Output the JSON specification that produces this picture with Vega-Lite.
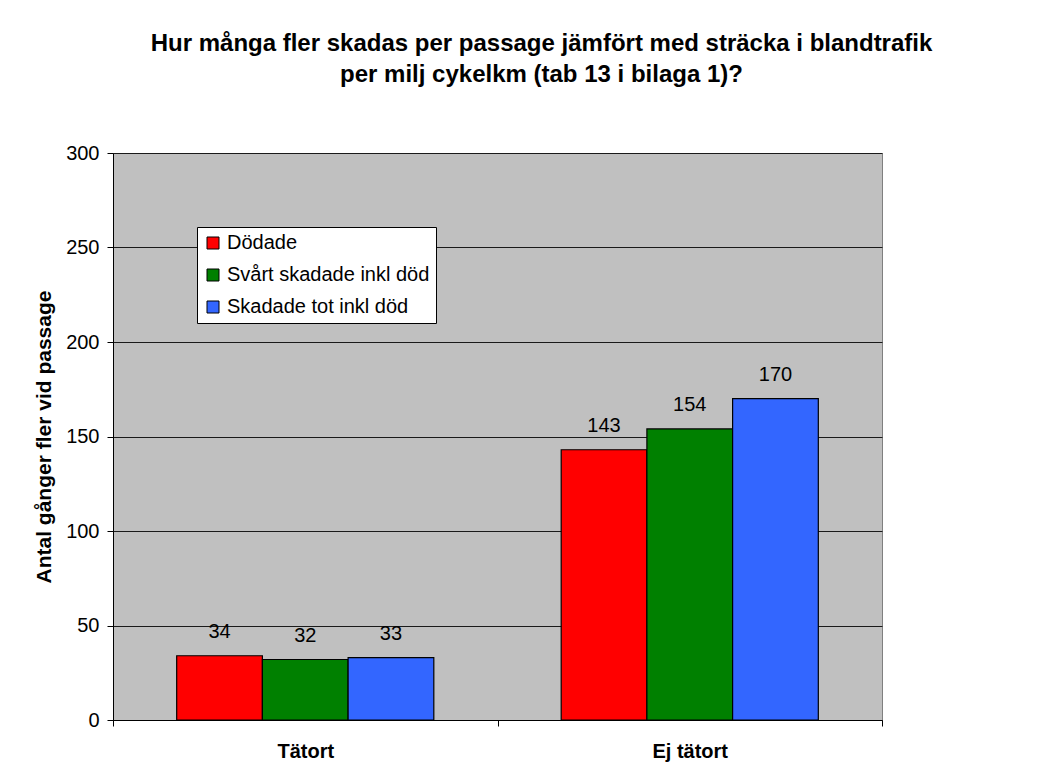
{
  "$schema": "https://vega.github.io/schema/vega-lite/v6.json",
  "autosize": "none",
  "width": 769,
  "height": 567,
  "padding": {"left": 113, "top": 153, "right": 155, "bottom": 58},
  "background": "white",
  "title": {
    "text": ["Hur många fler skadas per passage jämfört med sträcka i blandtrafik", "per milj cykelkm (tab 13 i bilaga 1)?"],
    "font": "Liberation Sans",
    "fontSize": 24,
    "fontWeight": "bold",
    "color": "black",
    "anchor": "middle",
    "frame": "group",
    "lineHeight": 31,
    "dx": 44,
    "offset": 56
  },
  "config": {
    "font": "Liberation Sans",
    "view": {"fill": "#C0C0C0", "stroke": "#808080", "strokeWidth": 1}
  },
  "data": {
    "values": [
      {"cat": "Tätort", "series": "Dödade", "value": 34},
      {"cat": "Tätort", "series": "Svårt skadade inkl död", "value": 32},
      {"cat": "Tätort", "series": "Skadade tot inkl död", "value": 33},
      {"cat": "Ej tätort", "series": "Dödade", "value": 143},
      {"cat": "Ej tätort", "series": "Svårt skadade inkl död", "value": 154},
      {"cat": "Ej tätort", "series": "Skadade tot inkl död", "value": 170}
    ]
  },
  "encoding": {
    "x": {
      "field": "cat",
      "type": "nominal",
      "sort": ["Tätort", "Ej tätort"],
      "scale": {"paddingInner": 0, "paddingOuter": 0},
      "axis": {
        "title": null,
        "labelAngle": 0,
        "labelFont": "Liberation Sans",
        "labelFontSize": 20,
        "labelFontWeight": "bold",
        "labelColor": "black",
        "labelPadding": 15,
        "tickBand": "extent",
        "tickColor": "black",
        "tickSize": 6,
        "domainColor": "black",
        "grid": false
      }
    },
    "xOffset": {
      "field": "series",
      "type": "nominal",
      "sort": ["Dödade", "Svårt skadade inkl död", "Skadade tot inkl död"],
      "scale": {"paddingOuter": 0.743, "paddingInner": 0}
    },
    "y": {
      "field": "value",
      "type": "quantitative",
      "scale": {"domain": [0, 300], "nice": false},
      "axis": {
        "title": "Antal gånger fler vid passage",
        "titleFont": "Liberation Sans",
        "titleFontSize": 21,
        "titleFontWeight": "bold",
        "titleColor": "black",
        "titlePadding": 11,
        "values": [0, 50, 100, 150, 200, 250, 300],
        "labelFont": "Liberation Sans",
        "labelFontSize": 20,
        "labelColor": "black",
        "labelPadding": 8,
        "tickColor": "black",
        "tickSize": 6,
        "domainColor": "black",
        "grid": true,
        "gridColor": "#1a1a1a",
        "gridWidth": 1,
        "gridOpacity": 1
      }
    }
  },
  "layer": [
    {
      "mark": {"type": "bar", "stroke": "black", "strokeWidth": 1.2},
      "encoding": {
        "color": {
          "field": "series",
          "type": "nominal",
          "sort": ["Dödade", "Svårt skadade inkl död", "Skadade tot inkl död"],
          "scale": {
            "domain": ["Dödade", "Svårt skadade inkl död", "Skadade tot inkl död"],
            "range": ["#FF0000", "#008000", "#3366FF"]
          },
          "legend": {
            "title": null,
            "orient": "none",
            "legendX": 84,
            "legendY": 74,
            "fillColor": "white",
            "strokeColor": "black",
            "padding": 6,
            "symbolType": "square",
            "symbolSize": 144,
            "symbolStrokeColor": "black",
            "symbolStrokeWidth": 1,
            "symbolOpacity": 1,
            "labelFont": "Liberation Sans",
            "labelFontSize": 20,
            "labelColor": "black",
            "labelOffset": 4,
            "labelLimit": 400,
            "rowPadding": 12
          }
        }
      }
    },
    {
      "mark": {"type": "text", "baseline": "middle", "dy": -24, "fontSize": 20, "font": "Liberation Sans", "color": "black"},
      "encoding": {
        "text": {"field": "value", "type": "quantitative"}
      }
    }
  ]
}
